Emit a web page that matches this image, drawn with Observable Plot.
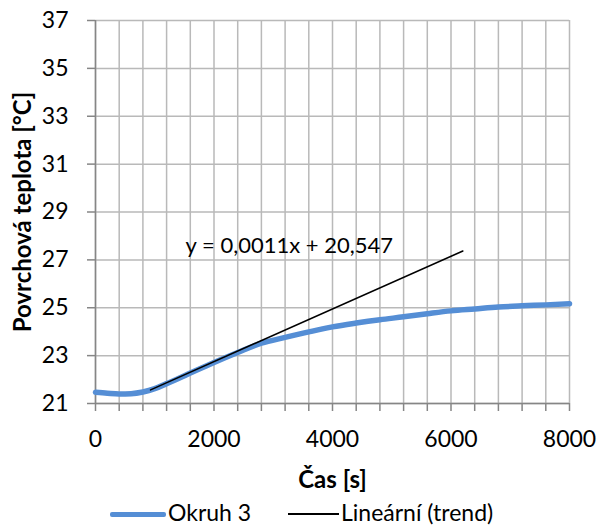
<!DOCTYPE html>
<html><head><meta charset="utf-8">
<script src="https://cdn.jsdelivr.net/npm/d3@7"></script>
<script src="https://cdn.jsdelivr.net/npm/@observablehq/plot@0.6"></script>
<style>
body{margin:0;background:#fff;font-family:Lato,"Open Sans",sans-serif;}
#chart{width:597px;height:526px;position:relative;overflow:hidden;}
#chart svg{position:absolute;left:0;top:0;}
#legend{position:absolute;left:0;top:499px;width:597px;height:27px;font-size:23px;color:#000;}
.sw{position:absolute;}
.lt{position:absolute;line-height:27px;top:0;white-space:nowrap;}
</style></head><body><div id="chart"></div>
<script>
// Data
const timeS = [0, 200, 400, 600, 800, 1000, 1200, 1400, 1600, 1800, 2000, 2400, 2800, 3200, 3600, 4000, 4400, 4800, 5200, 5600, 6000, 6400, 6800, 7200, 7600, 8000];
const tempC = [21.47, 21.43, 21.40, 21.41, 21.48, 21.62, 21.83, 22.04, 22.27, 22.49, 22.71, 23.13, 23.52, 23.76, 23.99, 24.20, 24.36, 24.50, 24.62, 24.75, 24.87, 24.95, 25.03, 25.08, 25.12, 25.17];
const trendTime = [930, 6200];
const trendTemp = [21.57, 27.37];
const yTicks = [21, 23, 25, 27, 29, 31, 33, 35, 37];
const xGridTicks = [0, 400, 800, 1200, 1600, 2000, 2400, 2800, 3200, 3600, 4000, 4400, 4800, 5200, 5600, 6000, 6400, 6800, 7200, 7600, 8000];
const xTickLabels = [0, 2000, 4000, 6000, 8000];
const seriesName = "Okruh 3";
const trendName = "Lineární (trend)";
const equation = "y = 0,0011x + 20,547";
const xTitle = "Čas [s]";
const yTitle = "Povrchová teplota [°C]";
const eqPos = [{x: 1520, y: 27.3}];

const series = timeS.map((t, i) => ({t, v: tempC[i]}));
const trend = trendTime.map((t, i) => ({t, v: trendTemp[i]}));

const gridColor = "#b9b9b9";
const axisColor = "#868686";

const plot = Plot.plot({
  width: 597, height: 526,
  marginLeft: 95, marginRight: 28, marginTop: 20, marginBottom: 123,
  style: {fontFamily: "Lato, 'Open Sans', sans-serif", fontSize: "23px", color: "#000", background: "#fff"},
  x: {domain: [0, 8000]},
  y: {domain: [21, 37]},
  marks: [
    Plot.gridX(xGridTicks, {stroke: gridColor, strokeOpacity: 1, strokeWidth: 1.5}),
    Plot.gridY(yTicks, {stroke: gridColor, strokeOpacity: 1, strokeWidth: 1.5}),
    Plot.axisX(xGridTicks, {tickSize: 8, tickFormat: () => "", label: null, stroke: axisColor, strokeWidth: 1.5}),
    Plot.axisX(xTickLabels, {tickSize: 0, tickPadding: 27, tickFormat: d => String(d), label: null, fontSize: 23}),
    Plot.axisY(yTicks, {tickSize: 8, tickPadding: 19, tickFormat: d => String(d), label: null, stroke: axisColor, strokeWidth: 1.5, fontSize: 23}),
    Plot.ruleX([0], {stroke: axisColor, strokeWidth: 1.5}),
    Plot.ruleY([21], {stroke: axisColor, strokeWidth: 1.5}),
    Plot.line(series, {x: "t", y: "v", stroke: "#558ed5", strokeWidth: 5.5, curve: "monotone-x"}),
    Plot.line(trend, {x: "t", y: "v", stroke: "#000", strokeWidth: 1.6}),
    Plot.text(eqPos, {x: "x", y: "y", text: () => equation, textAnchor: "start", lineAnchor: "bottom", fontSize: 22, fill: "#000"}),
    Plot.text([xTitle], {frameAnchor: "bottom", dy: 84, text: d => d, fontWeight: "bold", fontSize: 24, fill: "#000"}),
    Plot.text([yTitle], {frameAnchor: "left", dx: -72, rotate: -90, textAnchor: "middle", text: d => d, fontWeight: "bold", fontSize: 24, fill: "#000"})
  ]
});
const chart = document.getElementById("chart");
chart.appendChild(plot);

const legend = document.createElement("div");
legend.id = "legend";
legend.innerHTML =
  `<div class="sw" style="left:110px;top:13px;width:56px;height:5px;background:#558ed5;border-radius:2px"></div>` +
  `<div class="lt" style="left:168px">${seriesName}</div>` +
  `<div class="sw" style="left:288px;top:14px;width:51px;height:2px;background:#000"></div>` +
  `<div class="lt" style="left:341px">${trendName}</div>`;
chart.appendChild(legend);
</script>
</body></html>
